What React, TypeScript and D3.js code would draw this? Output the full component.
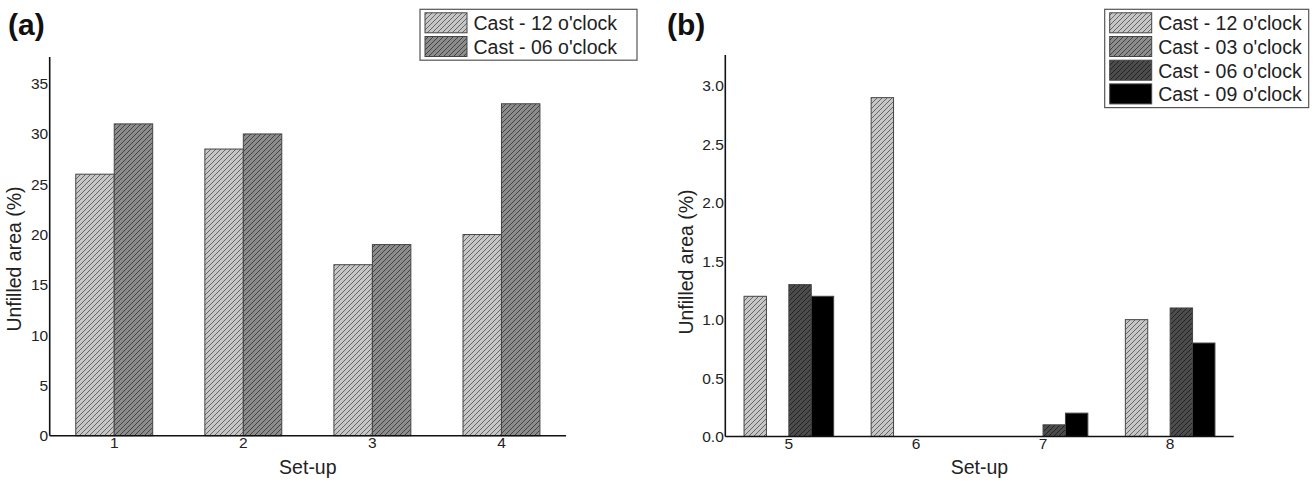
import React from "react";
import * as d3 from "d3";

// ---- Data ----
const setupsA = ["1", "2", "3", "4"];
const seriesA = ["Cast - 12 o'clock", "Cast - 06 o'clock"];
const cast12A = [26, 28.5, 17, 20];
const cast06A = [31, 30, 19, 33];
const ticksA = [0, 5, 10, 15, 20, 25, 30, 35];

const setupsB = ["5", "6", "7", "8"];
const seriesB = ["Cast - 12 o'clock", "Cast - 03 o'clock", "Cast - 06 o'clock", "Cast - 09 o'clock"];
const cast12B = [1.2, 2.9, 0, 1.0];
const cast03B = [0, 0, 0, 0];
const cast06B = [1.3, 0, 0.1, 1.1];
const cast09B = [1.2, 0, 0.2, 0.8];
const ticksB = [0, 0.5, 1.0, 1.5, 2.0, 2.5, 3.0];

const FONT = "'Liberation Sans', Arial, Helvetica, sans-serif";

// fill styles (pattern ids)
const STYLE_A = ["pLight", "pMid"];
const STYLE_B = ["pLight", "pMid", "pDark", "solidBlack"];

function fillFor(id: string) {
  return id === "solidBlack" ? "#000" : `url(#${id})`;
}

type PanelProps = {
  label: string;
  x0: number;
  x1: number;
  yTop: number;
  yBase: number;
  yMax: number;
  cats: string[];
  series: number[][];
  styles: string[];
  ticks: number[];
  tickFmt: (v: number) => string;
  groupFrac: number;
  yLabelX: number;
  yLabelY: number;
  labelX: number;
};

function Panel(p: PanelProps) {
  const x = d3.scaleBand<string>().domain(p.cats).range([p.x0, p.x1]).paddingInner(0).paddingOuter(0);
  const y = d3.scaleLinear().domain([0, p.yMax]).range([p.yBase, p.yTop]);
  const groupW = x.bandwidth() * p.groupFrac;
  const inner = d3
    .scaleBand<number>()
    .domain(d3.range(p.series.length))
    .range([0, groupW])
    .padding(0);
  const bw = inner.bandwidth();
  return (
    <g>
      <text x={p.labelX} y={35} fontFamily={FONT} fontWeight="bold" fontSize={30} fill="#111">
        {p.label}
      </text>
      {p.series.map((vals, si) =>
        vals.map((v, ci) => {
          if (v <= 0) return null;
          const bx = (x(p.cats[ci]) as number) + x.bandwidth() / 2 - groupW / 2 + (inner(si) as number);
          return (
            <rect
              key={`${si}-${ci}`}
              x={bx}
              y={y(v)}
              width={bw}
              height={p.yBase - y(v)}
              fill={fillFor(p.styles[si])}
              stroke="#444"
              strokeWidth={1}
            />
          );
        })
      )}
      {/* axes */}
      <line x1={p.x0} x2={p.x0} y1={p.yTop} y2={p.yBase} stroke="#111" strokeWidth={1.6} />
      <line x1={p.x0} x2={p.x1} y1={p.yBase} y2={p.yBase} stroke="#111" strokeWidth={1.6} />
      {p.ticks.map((t) => (
        <text
          key={t}
          x={p.x0 - 1.5}
          y={y(t) + 5.5}
          textAnchor="end"
          fontFamily={FONT}
          fontSize={15.5}
          fill="#222"
        >
          {p.tickFmt(t)}
        </text>
      ))}
      {p.cats.map((c) => (
        <text
          key={c}
          x={(x(c) as number) + x.bandwidth() / 2}
          y={p.yBase + 12.5}
          textAnchor="middle"
          fontFamily={FONT}
          fontSize={15.5}
          fill="#222"
        >
          {c}
        </text>
      ))}
      <text
        x={(p.x0 + p.x1) / 2}
        y={474}
        textAnchor="middle"
        fontFamily={FONT}
        fontSize={19.5}
        fill="#222"
      >
        Set-up
      </text>
      <text
        transform={`translate(${p.yLabelX},${p.yLabelY}) rotate(-90)`}
        textAnchor="middle"
        fontFamily={FONT}
        fontSize={19.5}
        fill="#222"
      >
        Unfilled area (%)
      </text>
    </g>
  );
}

function Legend({ x, y, w, names, styles }: { x: number; y: number; w: number; names: string[]; styles: string[] }) {
  const pitch = 23.7;
  const h = names.length * pitch + 3.5;
  return (
    <g>
      <rect x={x} y={y} width={w} height={h} fill="#fff" stroke="#555" strokeWidth={1.2} />
      {names.map((n, i) => (
        <g key={n}>
          <rect
            x={x + 5}
            y={y + 3.5 + i * pitch}
            width={42}
            height={20}
            fill={fillFor(styles[i])}
            stroke="#444"
            strokeWidth={1}
          />
          <text x={x + 53.5} y={y + 20.8 + i * pitch} fontFamily={FONT} fontSize={19.5} fill="#222">
            {n}
          </text>
        </g>
      ))}
    </g>
  );
}

// "/" diagonal hatch
function Hatch({ id, bg, line }: { id: string; bg: string; line: string }) {
  const s = 5;
  return (
    <pattern id={id} patternUnits="userSpaceOnUse" width={s} height={s}>
      <rect x={0} y={0} width={s} height={s} fill={bg} />
      <path
        d={`M0,${s} L${s},0 M${-1},1 L1,${-1} M${s - 1},${s + 1} L${s + 1},${s - 1}`}
        stroke={line}
        strokeWidth={0.9}
      />
    </pattern>
  );
}

export default function App() {
  return (
    <svg
      width={1315}
      height={482}
      viewBox="0 0 1315 482"
      style={{ position: "absolute", left: 0, top: 0, background: "#fff" }}
    >
      <defs>
        <Hatch id="pLight" bg="#c6c6c6" line="#5a5a5a" />
        <Hatch id="pMid" bg="#8c8c8c" line="#3a3a3a" />
        <Hatch id="pDark" bg="#4c4c4c" line="#1e1e1e" />
      </defs>
      <rect x={0} y={0} width={1315} height={482} fill="#fff" />
      <Panel
        label="(a)"
        labelX={8}
        x0={49.7}
        x1={566}
        yTop={57}
        yBase={435.7}
        yMax={37.65}
        cats={setupsA}
        series={[cast12A, cast06A]}
        styles={STYLE_A}
        ticks={ticksA}
        tickFmt={(v) => d3.format("d")(v)}
        groupFrac={0.596}
        yLabelX={21}
        yLabelY={259}
      />
      <Panel
        label="(b)"
        labelX={667}
        x0={725.3}
        x1={1233.7}
        yTop={55}
        yBase={436.5}
        yMax={3.265}
        cats={setupsB}
        series={[cast12B, cast03B, cast06B, cast09B]}
        styles={STYLE_B}
        ticks={ticksB}
        tickFmt={(v) => d3.format(".1f")(v)}
        groupFrac={0.705}
        yLabelX={693}
        yLabelY={262}
      />
      <Legend x={420} y={9.3} w={217} names={seriesA} styles={STYLE_A} />
      <Legend x={1104.7} y={9.3} w={204} names={seriesB} styles={STYLE_B} />
    </svg>
  );
}
